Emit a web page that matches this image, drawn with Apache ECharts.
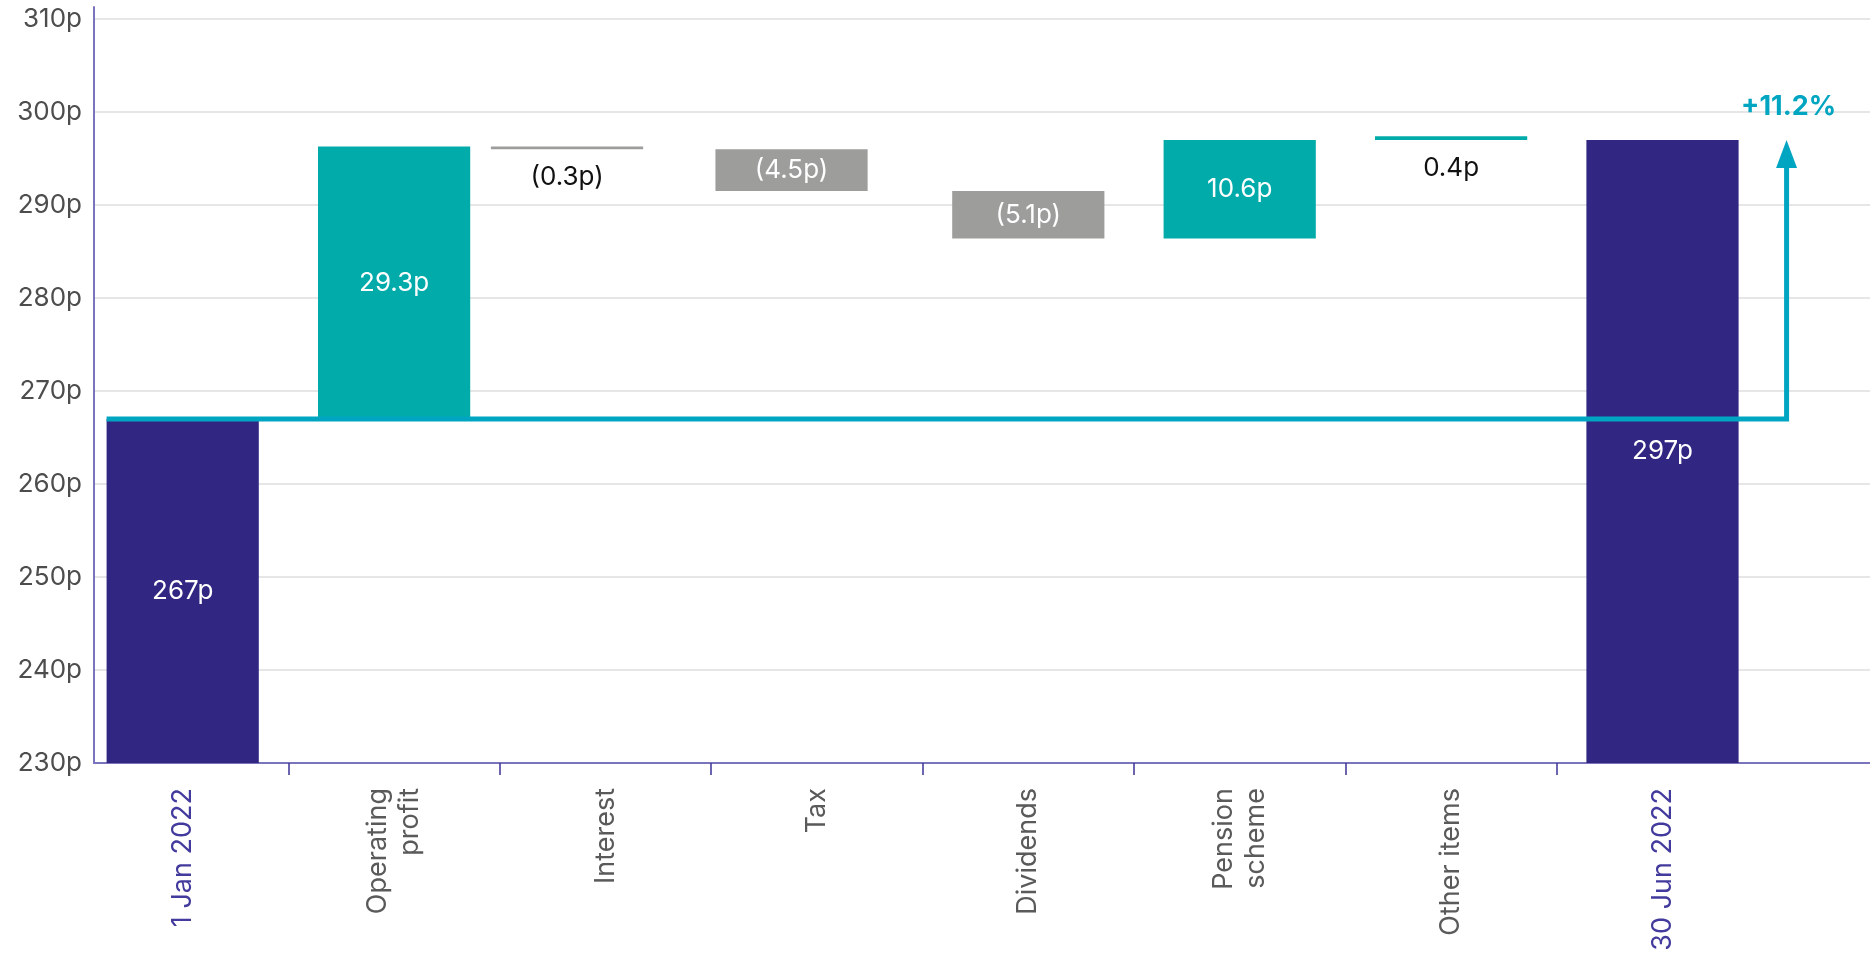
<!DOCTYPE html>
<html>
<head>
<meta charset="utf-8">
<title>NAV per share bridge</title>
<script src="https://cdn.jsdelivr.net/npm/echarts@6/dist/echarts.min.js"></script>
<style>
  html, body { margin: 0; padding: 0; background: #ffffff; }
  #chart { width: 1870px; height: 963px; }
</style>
</head>
<body>
<div id="chart"></div>
<script>
// ---- data -------------------------------------------------------------
const categories = ['1 Jan 2022', 'Operating\nprofit', 'Interest', 'Tax', 'Dividends', 'Pension\nscheme', 'Other items', '30 Jun 2022'];
const openingNav = 267;                                  // pence, 1 Jan 2022
const movements = [29.3, -0.3, -4.5, -5.1, 10.6, 0.4];   // pence, one per bridge step
const closingNav = 297;                                  // pence, 30 Jun 2022
const changePct = 11.2;                                  // % growth over the half year
const yTickValues = [230, 240, 250, 260, 270, 280, 290, 300, 310];

// ---- styling -----------------------------------------------------------
const FONT = 'Inter, "Open Sans", sans-serif';
const NAVY = '#312783';
const TEAL = '#00aba9';
const GREY = '#9d9d9c';
const CYAN = '#00a5c1';
const AXIS_PURPLE = '#7a74bd';
const TICK_PURPLE = '#3d3596';
const BAR_WIDTH = 0.72;                                   // share of a category band
const barShift = [0, 0, -0.182, -0.12, 0, 0, 0, 0];       // horizontal nudges, in bands
const ARROW_OFFSET = 0.587;                               // arrow distance past last band centre

const Y_MIN = yTickValues[0];
const Y_STEP = yTickValues[1] - yTickValues[0];

// ---- build the waterfall rows -----------------------------------------
const fmtUp = v => v.toFixed(1) + 'p';
const fmtDown = v => '(' + Math.abs(v).toFixed(1) + 'p)';
const rows = [];   // [categoryIndex, low, high, kind]  kind: 0 total, 1 up, 2 down
const rowText = [];
rows.push([0, Y_MIN, openingNav, 0]);
rowText.push(openingNav + 'p');
let running = openingNav;
movements.forEach((m, k) => {
  const next = running + m;
  rows.push([k + 1, Math.min(running, next), Math.max(running, next), m >= 0 ? 1 : 2]);
  rowText.push(m >= 0 ? fmtUp(m) : fmtDown(m));
  running = next;
});
rows.push([categories.length - 1, Y_MIN, closingNav, 0]);
rowText.push(closingNav + 'p');

const kindColor = [NAVY, TEAL, GREY];

// category axis carries one empty trailing slot so its last boundary tick falls off-canvas
const axisCategories = categories.map(c => {
  const isDate = /20\d\d/.test(c);
  return { value: c, textStyle: { color: isDate ? '#423a9c' : '#5a5a5a' } };
}).concat([{ value: '' }]);

const chart = echarts.init(document.getElementById('chart'), null, { renderer: 'canvas' });

const option = {
  animation: false,
  backgroundColor: '#ffffff',
  grid: [
    { left: 77, width: 1902.6, top: 7, bottom: 200, outerBoundsMode: 'none', containLabel: false },   // bars
    { left: 94, right: 0, top: 7, bottom: 200 }         // axis frame and gridlines
  ],
  xAxis: [
    {
      gridIndex: 0,
      type: 'category',
      data: axisCategories,
      axisLine: { show: false },
      axisTick: {
        show: true,
        interval: idx => idx > 0 && idx < categories.length,
        length: 12,
        lineStyle: { color: TICK_PURPLE, width: 1.5 }
      },
      axisLabel: {
        interval: 0,
        rotate: 90,
        margin: 25,
        fontSize: 27,
        lineHeight: 32,
        fontFamily: FONT,
        color: '#5a5a5a'
      },
      splitLine: { show: false }
    },
    {
      gridIndex: 1,
      type: 'value',
      min: 0,
      max: 1,
      axisLine: { show: true, onZero: false, lineStyle: { color: AXIS_PURPLE, width: 2 } },
      axisTick: { show: false },
      axisLabel: { show: false },
      splitLine: { show: false }
    }
  ],
  yAxis: [
    {
      gridIndex: 0,
      type: 'value',
      min: Y_MIN,
      max: 311.3,
      interval: Y_STEP,
      show: false
    },
    {
      gridIndex: 1,
      type: 'value',
      min: Y_MIN,
      max: 311.3,
      interval: Y_STEP,
      axisLine: { show: true, onZero: false, lineStyle: { color: AXIS_PURPLE, width: 2 } },
      axisTick: { show: false },
      axisLabel: {
        formatter: v => (yTickValues.indexOf(v) >= 0 ? v + 'p' : ''),
        color: '#4d4d4d',
        fontSize: 26,
        fontFamily: FONT,
        margin: 12
      },
      splitLine: {
        show: true,
        showMinLine: false,
        showMaxLine: false,
        lineStyle: { color: '#e6e6e6', width: 2 }
      }
    }
  ],
  series: [
    {
      name: 'bridge bars',
      type: 'custom',
      xAxisIndex: 0,
      yAxisIndex: 0,
      z: 2,
      data: rows,
      renderItem: (params, api) => {
        const i = api.value(0);
        const lo = api.value(1);
        const hi = api.value(2);
        const kind = api.value(3);
        const band = api.size([1, 0])[0];
        const w = band * BAR_WIDTH;
        const cx = api.coord([i, lo])[0] + barShift[i] * band;
        const yTop = api.coord([i, hi])[1];
        const yBot = api.coord([i, lo])[1];
        const thin = (hi - lo) < 1;
        const text = rowText[params.dataIndex];
        return {
          type: 'group',
          children: [
            {
              type: 'rect',
              shape: { x: cx - w / 2, y: yTop, width: w, height: yBot - yTop },
              style: { fill: kindColor[kind] }
            },
            {
              type: 'text',
              style: {
                text: text,
                x: cx,
                y: thin ? yBot + 15 : (yTop + yBot) / 2,
                fill: thin ? '#111111' : '#ffffff',
                fontSize: 26,
                fontFamily: FONT,
                align: 'center',
                verticalAlign: thin ? 'top' : 'middle'
              }
            }
          ]
        };
      }
    },
    {
      name: 'growth arrow',
      type: 'custom',
      xAxisIndex: 0,
      yAxisIndex: 0,
      z: 3,
      data: [[openingNav, closingNav]],
      renderItem: (params, api) => {
        const band = api.size([1, 0])[0];
        const lastIdx = categories.length - 1;
        const start = api.coord([0, api.value(0)]);
        const end = api.coord([lastIdx, api.value(1)]);
        const x0 = start[0] - band * BAR_WIDTH / 2;
        const xA = end[0] + band * ARROW_OFFSET;
        const yO = start[1];
        const yC = end[1];
        const headH = 28;
        const headHalf = 10.5;
        return {
          type: 'group',
          children: [
            {
              type: 'polyline',
              shape: { points: [[x0, yO], [xA, yO], [xA, yC + headH - 2]] },
              style: { stroke: CYAN, lineWidth: 5, fill: null, lineJoin: 'miter' }
            },
            {
              type: 'polygon',
              shape: { points: [[xA, yC], [xA - headHalf, yC + headH], [xA + headHalf, yC + headH]] },
              style: { fill: CYAN }
            },
            {
              type: 'text',
              style: {
                text: '+' + changePct.toFixed(1) + '%',
                x: xA + 2,
                y: yC - 33,
                fill: CYAN,
                fontSize: 27,
                fontWeight: 'bold',
                fontFamily: FONT,
                align: 'center',
                verticalAlign: 'middle'
              }
            }
          ]
        };
      }
    }
  ]
};

chart.setOption(option);
</script>
</body>
</html>
